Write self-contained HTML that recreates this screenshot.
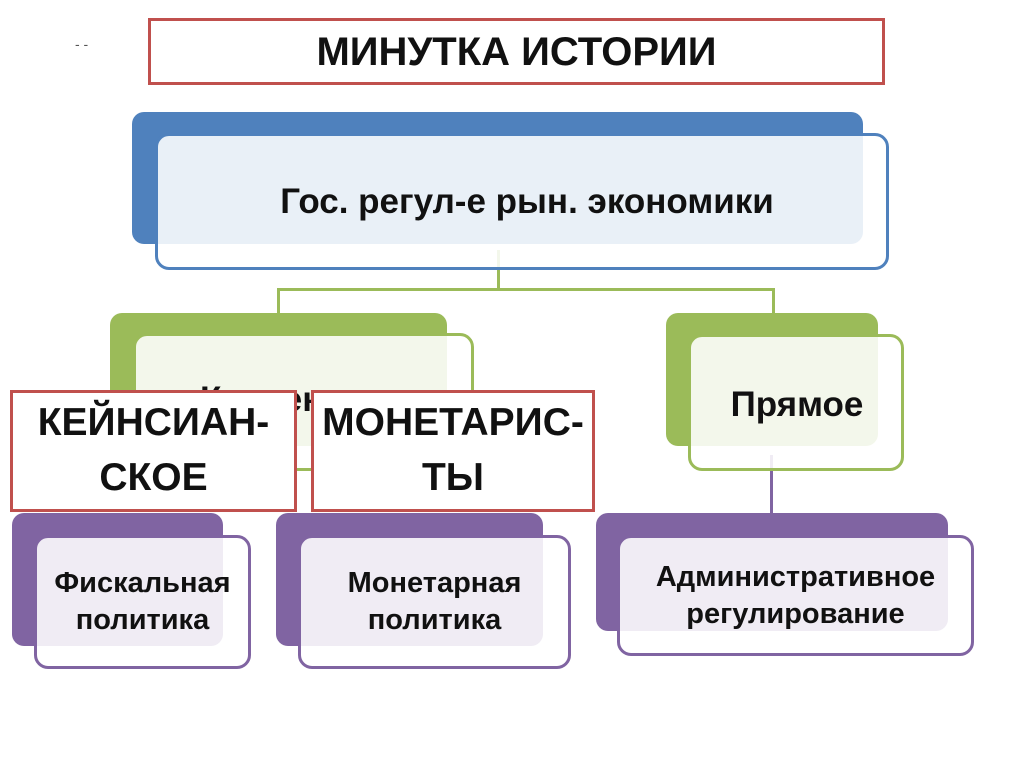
<!DOCTYPE html>
<html><head><meta charset="utf-8"><style>
body{margin:0;width:1024px;height:767px;background:#fff;position:relative;overflow:hidden;font-family:"Liberation Sans","DejaVu Sans",sans-serif;font-weight:bold;color:#111}
div{position:absolute;box-sizing:border-box}
.bk{border-radius:12px}
.fr{border-radius:14px;background:rgba(255,255,255,0.88);border-width:3px;border-style:solid}
.t{display:flex;align-items:center;justify-content:center;text-align:center;line-height:1.2;white-space:nowrap}
.t span{display:inline-block}
.red{border:3px solid #c0504d;background:#fff}
.ln{background:#9bbb59}
</style></head><body>
<div style="left:75px;top:36px;font-size:14px;font-weight:normal;color:#555">- -</div>
<div class="red t" style="left:148px;top:18px;width:737px;height:67px;font-size:40px"><span>МИНУТКА ИСТОРИИ</span></div>

<div class="ln" style="left:497px;top:250px;width:3px;height:40px"></div>
<div class="ln" style="left:277px;top:288px;width:498px;height:3px"></div>
<div class="ln" style="left:277px;top:288px;width:3px;height:26px"></div>
<div class="ln" style="left:772px;top:288px;width:3px;height:26px"></div>
<div style="left:770px;top:455px;width:3px;height:58px;background:#8064a2"></div>

<div class="bk" style="left:132px;top:112px;width:731px;height:132px;background:#4f81bd"></div>
<div class="fr t" style="left:155px;top:133px;width:734px;height:137px;border-color:#4f81bd;font-size:35px;padding-left:10px"><span>Гос. регул-е рын. экономики</span></div>

<div class="bk" style="left:110px;top:313px;width:337px;height:133px;background:#9bbb59"></div>
<div class="fr" style="left:133px;top:333px;width:341px;height:138px;border-color:#9bbb59;font-size:35px"><span style="position:absolute;left:64px;top:44px">Косвенное</span></div>

<div class="bk" style="left:666px;top:313px;width:212px;height:133px;background:#9bbb59"></div>
<div class="fr t" style="left:688px;top:334px;width:216px;height:137px;border-color:#9bbb59;font-size:35px;padding-top:4px;padding-left:2px"><span>Прямое</span></div>

<div class="bk" style="left:12px;top:513px;width:211px;height:133px;background:#8064a2"></div>
<div class="fr t" style="left:34px;top:535px;width:217px;height:134px;border-color:#8064a2;font-size:29px;line-height:1.27;padding-left:0"><span>Фискальная<br>политика</span></div>

<div class="bk" style="left:276px;top:513px;width:267px;height:133px;background:#8064a2"></div>
<div class="fr t" style="left:298px;top:535px;width:273px;height:134px;border-color:#8064a2;font-size:29px;line-height:1.27"><span>Монетарная<br>политика</span></div>

<div class="bk" style="left:596px;top:513px;width:352px;height:118px;background:#8064a2"></div>
<div class="fr t" style="left:617px;top:535px;width:357px;height:121px;border-color:#8064a2;font-size:29px;line-height:1.27"><span>Административное<br>регулирование</span></div>

<div class="red t" style="left:10px;top:390px;width:287px;height:122px;font-size:39px;line-height:1.4"><span>КЕЙНСИАН-<br>СКОЕ</span></div>
<div class="red t" style="left:311px;top:390px;width:284px;height:122px;font-size:39px;line-height:1.4"><span>МОНЕТАРИС-<br>ТЫ</span></div>
</body></html>
